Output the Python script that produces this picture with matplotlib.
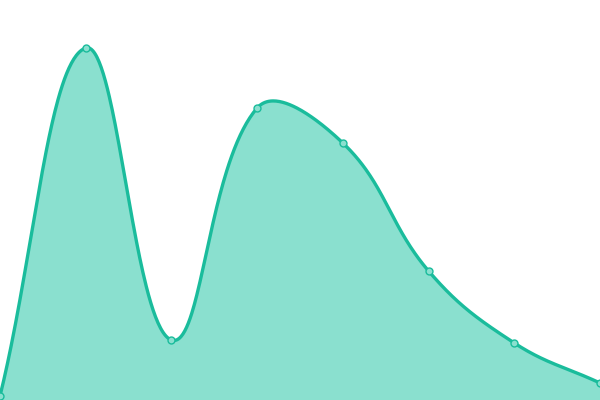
import matplotlib
matplotlib.use("Agg")
import matplotlib.pyplot as plt
import numpy as np

# values (0 = bottom edge, 400 = top edge)
x_idx = [0, 1, 2, 3, 4, 5, 6, 7]
values = [4, 352, 60, 292, 257, 129, 57, 17]

line_color = "#1abc9c"
fill_color = "#8ae0cf"
tension = 0.4

fig = plt.figure(figsize=(6, 4), dpi=100)
ax = fig.add_axes([0, 0, 1, 1])
ax.set_xlim(0, 7)
ax.set_ylim(0, 400)
ax.axis("off")

# spline control points worked out in pixel space (chart.js style)
pts = ax.transData.transform(np.column_stack([x_idx, values]))
x0, y0 = ax.transData.transform((0, 0))
x1, y1 = ax.transData.transform((7, 400))
n = len(pts)
cp_prev = pts.copy()
cp_next = pts.copy()
for i in range(n):
    prev = pts[max(i - 1, 0)]
    cur = pts[i]
    nxt = pts[min(i + 1, n - 1)]
    d01 = np.hypot(*(cur - prev))
    d12 = np.hypot(*(nxt - cur))
    s01 = d01 / (d01 + d12)
    s12 = d12 / (d01 + d12)
    cp_prev[i] = cur - tension * s01 * (nxt - prev)
    cp_next[i] = cur + tension * s12 * (nxt - prev)
for cp in (cp_prev, cp_next):
    cp[:, 0] = np.clip(cp[:, 0], x0, x1)
    cp[:, 1] = np.clip(cp[:, 1], y0, y1)

t = np.linspace(0, 1, 80)[:, None]
curve = [pts[:1]]
for i in range(n - 1):
    a, b, c, d = pts[i], cp_next[i], cp_prev[i + 1], pts[i + 1]
    seg = (1 - t)**3 * a + 3 * t * (1 - t)**2 * b + 3 * t**2 * (1 - t) * c + t**3 * d
    curve.append(seg[1:])
curve = ax.transData.inverted().transform(np.vstack(curve))
sx, sy = curve[:, 0], curve[:, 1]

ax.fill_between(sx, sy, 0, color=fill_color, lw=0)
ax.plot(sx, sy, color=line_color, lw=2.4, solid_capstyle="round")
ax.plot(x_idx, values, "o", ms=5, mfc=fill_color, mec=line_color, mew=1,
        clip_on=False)

plt.savefig("out.png", dpi=100)
